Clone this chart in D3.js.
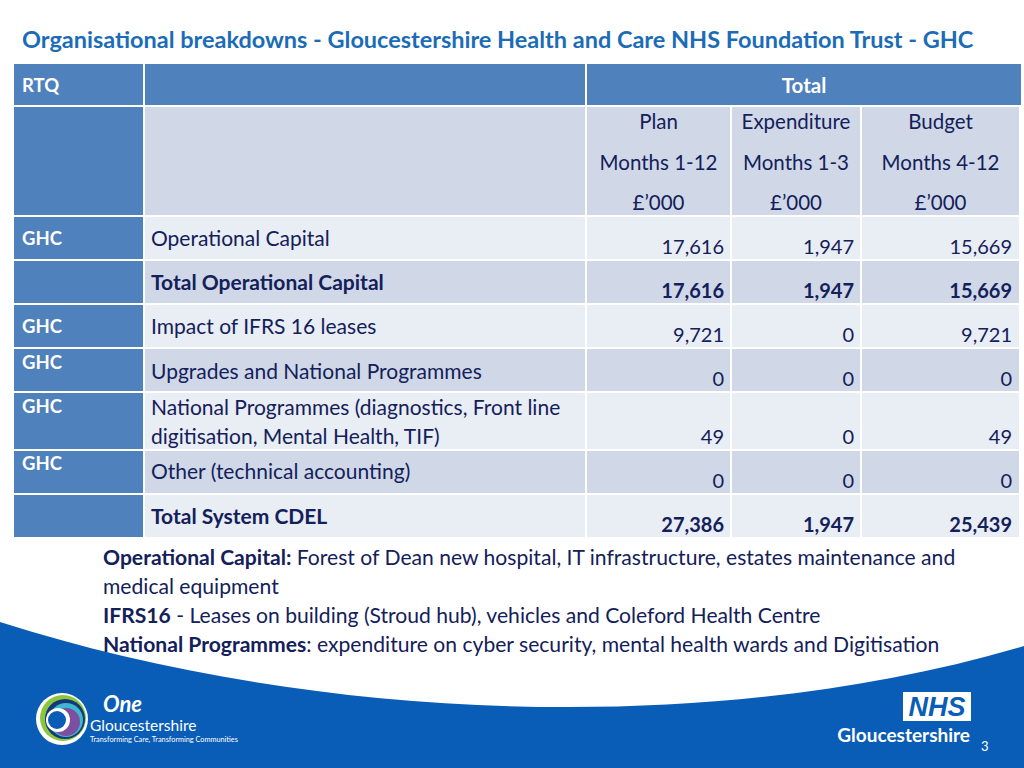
<!DOCTYPE html>
<html><head><meta charset="utf-8">
<script src="https://cdn.jsdelivr.net/npm/d3@7"></script>
<style>html,body{margin:0;padding:0;background:#fff;}svg{display:block;font-family:Lato,"Open Sans",sans-serif;}</style>
</head><body>
<svg id="c" width="1024" height="768"></svg>
<script>
// ---------- data ----------
const title = "Organisational breakdowns - Gloucestershire Health and Care NHS Foundation Trust - GHC";
const groupHeader = ["RTQ", "", "Total"];
const columnHeads = ["Plan", "Expenditure", "Budget"];
const columnPeriods = ["Months 1-12", "Months 1-3", "Months 4-12"];
const columnUnits = ["£’000", "£’000", "£’000"];
const orgCodes = ["GHC", "", "GHC", "GHC", "GHC", "GHC", ""];
const rowLabels = [
  ["Operational Capital"],
  ["Total Operational Capital"],
  ["Impact of IFRS 16 leases"],
  ["Upgrades and National Programmes"],
  ["National Programmes (diagnostics, Front line", "digitisation, Mental Health, TIF)"],
  ["Other (technical accounting)"],
  ["Total System CDEL"]
];
const planValues = [17616, 17616, 9721, 0, 49, 0, 27386];
const expenditureValues = [1947, 1947, 0, 0, 0, 0, 1947];
const budgetValues = [15669, 15669, 9721, 0, 49, 0, 25439];
const totalRows = [false, true, false, false, false, false, true];
const notes = [
  [["Operational Capital:", true], [" Forest of Dean new hospital, IT infrastructure, estates maintenance and", false]],
  [["medical equipment", false]],
  [["IFRS16", true], [" - Leases on building (Stroud hub), vehicles and Coleford Health Centre", false]],
  [["National Programmes", true], [": expenditure on cyber security, mental health wards and Digitisation", false]]
];

// ---------- layout / style ----------
const C = {
  title: "#1b6cb7", dark: "#4f81bd", light: "#e9edf4", mid: "#d0d8e8",
  text: "#13205a", wave: "#0a5db6"
};
const colEdges = [14, 145, 587, 732, 862, 1021];
const gap = 2;
const rowHeights = [42, 42, 42, 42, 56, 42, 42];
const codeOffset = [22, 22, 22, 14, 14, 13, 22];
const labelOffset = [22, 22, 22, 23, 15, 21, 22];

const svg = d3.select("#c");
const fmt = d3.format(",");

function fit(sel, w) {
  const cur = sel.node().getComputedTextLength();
  const fs = parseFloat(sel.attr("font-size"));
  sel.attr("font-size", fs * w / cur);
  return fs * w / cur;
}

// title
const t = svg.append("text").attr("x", 22).attr("y", 48).attr("font-size", 20)
  .attr("font-weight", "bold").attr("fill", C.title).text(title);
fit(t, 952);

const x = d3.scaleOrdinal().domain(d3.range(5)).range(colEdges.slice(0, 5));
const colW = i => colEdges[i + 1] - colEdges[i] - gap;

const headerTop = 64, headerH = 41, subTop = 107, subH = 108;
const rowTops = [];
let yy = 217;
rowHeights.forEach(h => { rowTops.push(yy); yy += h + gap; });

// header row 1
const hdr = svg.append("g");
hdr.append("rect").attr("x", x(0)).attr("y", headerTop).attr("width", colW(0)).attr("height", headerH).attr("fill", C.dark);
hdr.append("rect").attr("x", x(1)).attr("y", headerTop).attr("width", colW(1)).attr("height", headerH).attr("fill", C.dark);
hdr.append("rect").attr("x", x(2)).attr("y", headerTop).attr("width", colEdges[5] - colEdges[2]).attr("height", headerH).attr("fill", C.dark);
hdr.append("text").attr("x", x(0) + 8).attr("y", headerTop + 22).attr("dy", "0.35em")
  .attr("font-size", 18.5).attr("font-weight", "bold").attr("fill", "#fff").text(groupHeader[0]);
hdr.append("text").attr("x", (colEdges[2] + colEdges[5]) / 2).attr("y", headerTop + 22).attr("dy", "0.35em")
  .attr("text-anchor", "middle").attr("font-size", 20.5).attr("font-weight", "bold").attr("fill", "#fff").text(groupHeader[2]);

// header row 2
const sub = svg.append("g");
d3.range(5).forEach(i => {
  sub.append("rect").attr("x", x(i)).attr("y", subTop).attr("width", colW(i)).attr("height", subH)
    .attr("fill", i === 0 ? C.dark : C.mid);
});
columnHeads.forEach((h, j) => {
  const cx = x(j + 2) + colW(j + 2) / 2;
  [h, columnPeriods[j], columnUnits[j]].forEach((s, k) => {
    sub.append("text").attr("x", cx).attr("y", subTop + 15 + k * 40.5).attr("dy", "0.35em")
      .attr("text-anchor", "middle").attr("font-size", 20.5).attr("fill", C.text).text(s);
  });
});

// body rows
const body = svg.append("g");
rowLabels.forEach((lab, r) => {
  const top = rowTops[r], h = rowHeights[r];
  const fill = r % 2 === 0 ? C.light : C.mid;
  d3.range(5).forEach(i => {
    body.append("rect").attr("x", x(i)).attr("y", top).attr("width", colW(i)).attr("height", h)
      .attr("fill", i === 0 ? C.dark : fill);
  });
  if (orgCodes[r]) {
    body.append("text").attr("x", x(0) + 8).attr("y", top + codeOffset[r]).attr("dy", "0.35em")
      .attr("font-size", 18.5).attr("font-weight", "bold").attr("fill", "#fff").text(orgCodes[r]);
  }
  lab.forEach((s, k) => {
    body.append("text").attr("x", x(1) + 6).attr("y", top + labelOffset[r] + k * 29).attr("dy", "0.35em")
      .attr("font-size", 21).attr("font-weight", totalRows[r] ? "bold" : "normal").attr("fill", C.text).text(s);
  });
  [planValues[r], expenditureValues[r], budgetValues[r]].forEach((v, j) => {
    const right = colEdges[j + 3] - gap - (j === 2 ? 7 : 6);
    body.append("text").attr("x", right).attr("y", top + h - 12).attr("dy", "0.35em")
      .attr("text-anchor", "end").attr("font-size", 20).attr("font-weight", totalRows[r] ? "bold" : "normal")
      .attr("fill", C.text).text(fmt(v));
  });
});

// bottom wave
svg.append("path").attr("d", "M0,622 C300,718 700,742 1024,646 L1024,768 L0,768 Z").attr("fill", C.wave);

// notes
let noteSize = 20.5;
notes.forEach((parts, i) => {
  const tx = svg.append("text").attr("x", 103).attr("y", 558 + i * 29).attr("dy", "0.35em")
    .attr("font-size", noteSize).attr("fill", C.text);
  parts.forEach(([s, b]) => tx.append("tspan").attr("font-weight", b ? "bold" : "normal").text(s));
  if (i === 0) noteSize = fit(tx, 853);
});

// One Gloucestershire logo
const lg = svg.append("g");
[[62, 719, 26, "#ffffff"], [63, 718, 23, "#8cc63f"], [65, 719, 20, "#123a7a"], [66, 720, 17, "#3fb6cf"],
 [66, 722, 14, "#7d4f9f"], [58, 720, 12, "#ffffff"], [57, 720, 9, C.wave]].forEach(([cx, cy, r, f]) => {
  lg.append("circle").attr("cx", cx).attr("cy", cy).attr("r", r).attr("fill", f);
});
lg.append("text").attr("x", 103).attr("y", 712).attr("font-size", 22).attr("font-style", "italic")
  .attr("font-weight", "bold").attr("fill", "#fff").text("One");
lg.append("text").attr("x", 90).attr("y", 731).attr("font-size", 15.5).attr("fill", "#fff").text("Gloucestershire");
lg.append("text").attr("x", 90).attr("y", 742).attr("font-size", 7.3).attr("fill", "#fff")
  .text("Transforming Care, Transforming Communities");

// NHS logo
const nl = svg.append("g");
nl.append("rect").attr("x", 903).attr("y", 692).attr("width", 68).attr("height", 29).attr("fill", "#fff");
nl.append("text").attr("x", 937).attr("y", 716).attr("text-anchor", "middle").attr("font-size", 27)
  .attr("font-weight", "900").attr("font-style", "italic").attr("fill", C.wave).attr("font-family", "Liberation Sans, Arial, sans-serif").text("NHS");
nl.append("text").attr("x", 970).attr("y", 742).attr("text-anchor", "end").attr("font-size", 19)
  .attr("font-weight", "bold").attr("fill", "#fff").text("Gloucestershire");
svg.append("text").attr("x", 981).attr("y", 751).attr("font-size", 13).attr("fill", "#fff").text("3");
</script>
</body></html>
